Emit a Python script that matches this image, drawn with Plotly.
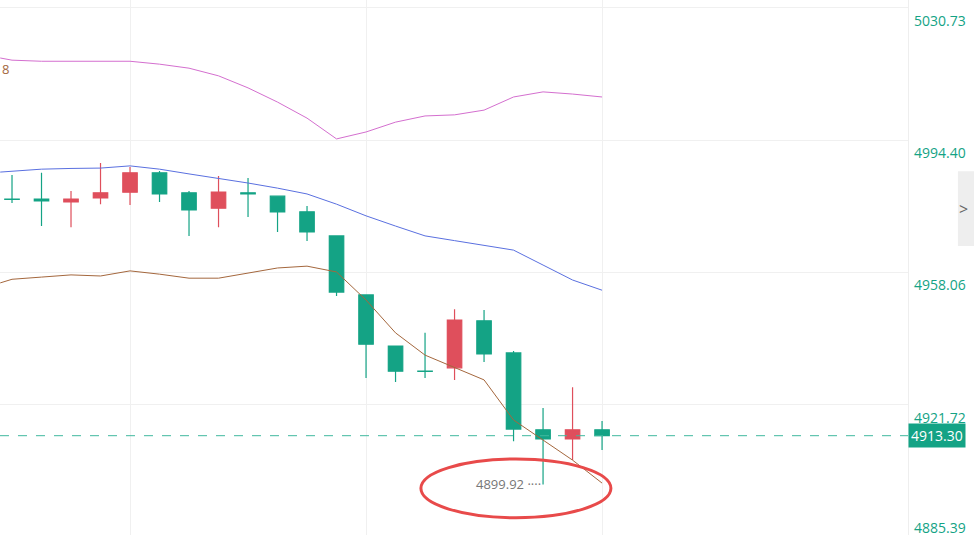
import plotly.graph_objects as go

idx = list(range(21))
opens = [4978.2, 4978.2, 4977.4, 4978.5, 4980.1, 4985.4, 4979.9, 4975.7, 4979.9, 4979.0, 4974.7,
         4968.1, 4951.9, 4937.9, 4931.0, 4931.9, 4944.8, 4936.0, 4914.9, 4912.4, 4914.9]
closes = [4978.1, 4977.7, 4978.2, 4979.9, 4985.4, 4979.6, 4975.2, 4980.1, 4979.6, 4974.7, 4969.2,
          4952.7, 4938.4, 4931.0, 4930.9, 4945.0, 4935.7, 4915.1, 4912.4, 4914.9, 4913.3]
highs = [4984.8, 4985.4, 4980.4, 4988.1, 4987.0, 4985.9, 4980.4, 4984.5, 4984.0, 4979.2, 4976.3,
         4968.1, 4951.9, 4937.9, 4941.5, 4948.0, 4947.8, 4936.5, 4920.9, 4926.6, 4917.3]
lows = [4977.1, 4970.8, 4970.5, 4976.8, 4976.6, 4977.4, 4968.1, 4970.5, 4973.3, 4969.2, 4966.7,
        4951.6, 4929.1, 4928.0, 4929.1, 4928.6, 4933.5, 4911.8, 4899.92, 4906.6, 4909.4]

line_x = [-0.4] + idx
upper = [5016.9, 5016.3, 5016.0, 5016.0, 5016.0, 5016.0, 5015.2, 5014.1, 5012.0, 5008.7, 5004.8,
         5000.4, 4994.7, 4996.6, 4999.3, 5001.0, 5001.3, 5002.6, 5006.2, 5007.6, 5007.0, 5006.2]
middle = [4985.6, 4985.8, 4986.4, 4986.6, 4986.7, 4987.3, 4986.4, 4985.1, 4983.9, 4982.6, 4981.2,
          4979.6, 4976.8, 4973.6, 4970.8, 4968.1, 4966.8, 4965.6, 4964.2, 4960.1, 4956.0, 4953.2]
lower = [4955.2, 4956.2, 4956.8, 4957.4, 4957.1, 4958.5, 4957.6, 4956.5, 4956.5, 4957.9, 4959.3,
         4959.8, 4958.2, 4950.5, 4941.5, 4935.4, 4932.1, 4928.6, 4917.6, 4912.1, 4906.6, 4900.3]

tick_vals = [5030.73, 4994.40, 4958.06, 4921.72, 4885.39]
last_price = 4913.30
low_label = "4899.92"

green = "#14a385"
red = "#df4f5c"

fig = go.Figure()
fig.add_trace(go.Scatter(x=line_x, y=upper, mode="lines", line=dict(color="#d46fcf", width=1)))
fig.add_trace(go.Scatter(x=line_x, y=middle, mode="lines", line=dict(color="#5a70e0", width=1)))
fig.add_trace(go.Scatter(x=line_x, y=lower, mode="lines", line=dict(color="#a4673d", width=1)))
fig.add_trace(go.Candlestick(
    x=idx, open=opens, high=highs, low=lows, close=closes,
    increasing=dict(line=dict(color=red, width=1.2), fillcolor=red),
    decreasing=dict(line=dict(color=green, width=1.2), fillcolor=green),
    whiskerwidth=0, hoverinfo="skip"))

fig.add_hline(y=last_price, line=dict(color="#3fb89e", width=1, dash="dash"))

# right-hand price labels (bottom one sits at the lower edge)
for v in tick_vals:
    bottom = v == tick_vals[-1]
    fig.add_annotation(x=1, xref="paper", y=tick_vals[3] if bottom else v,
                       yref="y" if not bottom else "y",
                       text=f"{v:.2f}", showarrow=False, xanchor="left",
                       yanchor="top", xshift=4, yshift=-111 if bottom else -1,
                       font=dict(color=green, size=14, family="Open Sans"))
fig.add_annotation(x=1, xref="paper", y=last_price, text=f"{last_price:.2f}", showarrow=False,
                   xanchor="left", xshift=0, bgcolor=green, borderpad=2,
                   font=dict(color="white", size=14, family="Open Sans"))

fig.add_shape(type="circle", x0=13.86, x1=20.3, y0=4890.8, y1=4906.9,
              line=dict(color="#e84a4a", width=3))
fig.add_annotation(x=18, y=lows[18], text=low_label + " ····", showarrow=False,
                   xanchor="right", font=dict(color="#777777", size=13, family="Open Sans"))
fig.add_annotation(x=0, xref="paper", y=5013.8, text="8", showarrow=False, xanchor="left",
                   font=dict(color="#a4673d", size=13, family="Open Sans"))
fig.add_shape(type="rect", xref="paper", yref="paper", x0=1.055, x1=1.085, y0=0.54, y1=0.68,
              fillcolor="#eeeeee", line=dict(width=0))
fig.add_annotation(x=1.068, xref="paper", y=0.61, yref="paper", text=">", showarrow=False,
                   font=dict(color="#666666", size=16))

fig.update_layout(
    width=974, height=535, margin=dict(l=0, r=66, t=0, b=0),
    paper_bgcolor="white", plot_bgcolor="white", showlegend=False,
    xaxis=dict(range=[-0.407, 30.37], rangeslider=dict(visible=False), showticklabels=False,
               tickvals=[4, 12, 20], gridcolor="#f0f0f0", zeroline=False, automargin=False),
    yaxis=dict(range=[4886.06, 5032.8], side="right", tickvals=tick_vals, showticklabels=False,
               gridcolor="#f0f0f0", showline=True, linecolor="#eeeeee", zeroline=False,
               automargin=False),
)
fig.write_html("out.html", config={"displayModeBar": False},
               post_script="document.body.style.margin='0';document.body.style.overflow='hidden';")
